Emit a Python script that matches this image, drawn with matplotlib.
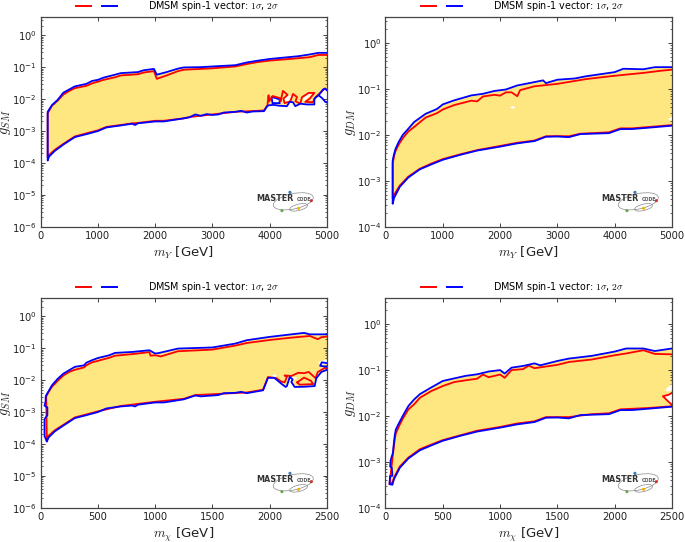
import matplotlib
matplotlib.use("Agg")
import matplotlib.pyplot as plt
from matplotlib.patches import Ellipse
from matplotlib.legend_handler import HandlerTuple
from matplotlib.lines import Line2D
from matplotlib.ticker import LogLocator, NullFormatter

plt.rcParams['mathtext.fontset'] = 'cm'
plt.rcParams['font.family'] = 'DejaVu Sans'

LEGEND_TEXT = r'DMSM spin-1 vector: $1\sigma$, $2\sigma$'

# ---- Panel 1: gSM vs mY
p1_up2_x = [125,200,300,400,500,600,800,900,1000,1100,1300,1400,1700,1800,1980,2030,2200,2400,2500,2800,3000,3400,3600,3800,4000,4500,4700,4850,5000]
p1_up2_y = [.004,.0065,.0095,.016,.02,.025,.03,.037,.04,.047,.058,.065,.07,.08,.088,.058,.07,.09,.098,.1,.105,.115,.14,.16,.18,.22,.25,.28,.28]
p1_up1_y = [.0036,.0062,.009,.014,.018,.022,.026,.031,.035,.04,.048,.055,.06,.068,.075,.043,.055,.075,.083,.088,.092,.105,.125,.145,.16,.19,.205,.24,.24]
p1_lo2_x = [125,150,250,400,600,800,1000,1150,1400,1600,1650,1700,2000,2150,2500,2600,2700,2800,2900,3000,3100,3200,3400,3500,3600,3700,3900,3950,3980,4068,4173,4300,4348,4406,4447,4534,4650,4779,4779,4854,4930,4970,5000]
p1_lo2_y = [1.2e-4,1.6e-4,2.4e-4,3.8e-4,6.5e-4,8e-4,1e-3,1.3e-3,1.5e-3,1.7e-3,1.55e-3,1.75e-3,2e-3,2e-3,2.5e-3,2.7e-3,3.3e-3,3e-3,3.4e-3,3.2e-3,3.3e-3,3.8e-3,4e-3,4.3e-3,3.8e-3,4.1e-3,4.2e-3,5.8e-3,6.4e-3,6.6e-3,6.2e-3,6e-3,8.2e-3,8e-3,6e-3,7.2e-3,6.8e-3,6.8e-3,.0104,.0132,.02,.0214,.019]
p1_lo1_x = [125,150,250,400,600,800,1000,1150,1400,1600,1700,2000,2150,2500,2600,3400,3900,3960,3980,3990,4050,4173,4190,4231,4312,4240,4260,4359,4406,4476,4450,4534,4563,4680,4779,4700,4620,4750,4810,4880,4960,5000]
p1_lo1_y = [1.5e-4,1.8e-4,2.6e-4,4e-4,6.8e-4,8.5e-4,1.05e-3,1.35e-3,1.55e-3,1.75e-3,1.8e-3,2.1e-3,2.1e-3,2.5e-3,2.75e-3,4e-3,4.4e-3,6.4e-3,.0132,.0085,.0125,.0108,.0085,.0181,.0135,.0104,.0075,.0085,.0145,.0117,.0085,.0072,.0115,.0156,.0156,.0104,.0082,.008,.012,.0155,.0214,.019]
p1_tail_x = [4854,4920,4970,5000]
p1_tail_y = [.0132,.0105,.0082,.0078]
p1_hole_x = [[4030,4173,4173,4050],[4265,4300,4250,4280,4340,4380],[4575,4680,4740,4650,4600]]
p1_hole_y = [[.0118,.0098,.0075,.0075],[.0155,.0135,.0104,.0082,.0088,.012],[.0105,.0145,.0145,.0104,.0085]]
p1_hole_edge = ['#0000ff','none','none']

# ---- Panel 2: gDM vs mY
p2_up2_x = [125,150,175,230,300,400,500,700,900,1000,1200,1500,1700,1900,2100,2300,2600,2750,2800,3000,3300,3500,4000,4150,4500,4700,5000]
p2_up2_y = [.0028,.0039,.005,.0071,.01,.0138,.0192,.029,.037,.0465,.057,.073,.079,.091,.098,.12,.142,.155,.135,.16,.17,.19,.234,.277,.27,.30,.30]
p2_up1_x = [125,150,175,230,300,400,500,700,900,1000,1200,1500,1600,1700,1900,2000,2100,2200,2300,2350,2600,3000,3500,4000,4500,4800,5000]
p2_up1_y = [.0024,.0035,.0045,.0062,.0085,.012,.015,.024,.03,.036,.045,.056,.054,.069,.075,.072,.085,.085,.07,.095,.115,.13,.165,.195,.225,.25,.265]
p2_lo2_x = [125,150,250,400,600,800,1000,1300,1600,2000,2300,2600,2800,3000,3200,3400,3600,3900,4100,4300,4600,5000]
p2_lo2_y = [3.2e-4,4.3e-4,7.5e-4,1.2e-3,1.8e-3,2.3e-3,2.9e-3,3.7e-3,4.6e-3,5.6e-3,6.6e-3,7.4e-3,9.2e-3,9.3e-3,9e-3,1.05e-2,1.07e-2,1.1e-2,1.35e-2,1.35e-2,1.45e-2,1.6e-2]
p2_lo1_y = [4.2e-4,5e-4,8e-4,1.25e-3,1.85e-3,2.4e-3,3e-3,3.8e-3,4.7e-3,5.8e-3,6.8e-3,7.6e-3,9.4e-3,9.5e-3,9.4e-3,1.07e-2,1.1e-2,1.15e-2,1.4e-2,1.4e-2,1.5e-2,1.65e-2]
p2_hole_x = [[2170,2220,2270,2220],[4930,5000,5000]]
p2_hole_y = [[.04,.043,.04,.037],[.022,.025,.02]]
p2_hole_edge = ['none','none']

# ---- Panel 3: gSM vs mchi
p3_up2_x = [50,75,100,150,200,250,300,380,400,450,500,600,650,800,950,1000,1030,1200,1500,1700,1800,2000,2200,2300,2350,2500]
p3_up2_y = [.0034,.0048,.0069,.011,.016,.0204,.026,.029,.035,.042,.049,.06,.071,.076,.086,.068,.07,.097,.105,.139,.177,.225,.273,.30,.27,.27]
p3_up1_x = [50,75,100,150,200,250,300,380,400,450,500,600,650,800,950,960,1000,1050,1200,1500,1700,1800,2000,2200,2350,2420,2450,2500]
p3_up1_y = [.0031,.0045,.0062,.0095,.014,.018,.021,.025,.029,.036,.04,.05,.058,.065,.075,.058,.06,.055,.08,.09,.12,.145,.18,.215,.24,.19,.22,.23]
p3_left_x = [45,45,35,60,60,35,35,35,55]
p3_left_y = [.003,.0022,.0016,.0014,8e-4,6e-4,3.5e-4,1.8e-4,1.2e-4]
p3_lo2_x = [55,70,125,200,300,400,500,575,700,800,825,850,1000,1075,1250,1350,1400,1500,1550,1600,1700,1750,1800,1942,1985,2040,2100,2139,2150,2175,2200,2189,2218,2300,2392,2407,2451,2500]
p3_lo2_y = [1.2e-4,1.6e-4,2.5e-4,3.8e-4,6.5e-4,8e-4,1e-3,1.3e-3,1.5e-3,1.6e-3,1.5e-3,1.7e-3,2e-3,2e-3,2.5e-3,3.3e-3,3.1e-3,3.3e-3,3.4e-3,3.9e-3,4e-3,4.3e-3,3.9e-3,4.8e-3,.0118,.0118,.0078,.0061,.0065,.0126,.0105,.0087,.0061,.0062,.0065,.0115,.018,.021]
p3_lo1_x = [70,125,200,300,500,700,1000,1250,1350,1800,1942,1985,2060,2100,2130,2150,2130,2190,2250,2300,2340,2400,2420,2480,2500]
p3_lo1_y = [1.8e-4,2.7e-4,4e-4,6.8e-4,1.05e-3,1.55e-3,2.1e-3,2.6e-3,3.4e-3,4.1e-3,5e-3,.0125,.0115,.009,.0085,.0125,.014,.0135,.017,.0165,.018,.0115,.018,.024,.023]
p3_red2_x = [2240,2300,2360,2380,2260,2240]
p3_red2_y = [.0085,.012,.0095,.0075,.0072,.0085]
p3_tail_x = [2500,2440,2455,2500]
p3_tail_y = [.026,.028,.036,.034]
p3_hole_x = [[2020,2050,2060,2030],[2180,2240,2230,2190],[2420,2500,2500,2450]]
p3_hole_y = [[.0135,.016,.0135,.012],[.0125,.012,.0105,.0105],[.036,.045,.032,.031]]
p3_hole_edge = ['none','none','none']

# ---- Panel 4: gDM vs mchi
p4_up2_x = [70,80,90,120,150,200,250,300,400,500,600,700,800,900,1000,1040,1100,1200,1300,1350,1500,1600,1800,2000,2100,2250,2350,2500]
p4_up2_y = [.0022,.0037,.0051,.0072,.01,.0166,.023,.03,.042,.058,.066,.075,.081,.093,.10,.084,.113,.123,.14,.127,.158,.178,.204,.253,.295,.295,.26,.295]
p4_up1_x = [70,80,90,120,150,200,250,300,400,500,600,700,800,850,900,1000,1040,1100,1200,1250,1300,1500,1600,1800,2000,2100,2250,2350,2500]
p4_up1_y = [.0019,.003,.0042,.0062,.0087,.014,.018,.025,.035,.045,.055,.06,.065,.08,.07,.08,.068,.1,.105,.125,.11,.13,.15,.17,.21,.23,.27,.225,.22]
p4_left_x = [65,45,40,55,60,40,35]
p4_left_y = [.0016,.0011,8e-4,7.5e-4,5e-4,5e-4,3.3e-4]
p4_lo2_x = [60,75,125,200,300,400,500,650,800,1000,1150,1300,1400,1500,1600,1700,1800,1950,2050,2150,2300,2500]
p4_lo2_y = [3.2e-4,4.3e-4,7.5e-4,1.2e-3,1.8e-3,2.3e-3,2.9e-3,3.7e-3,4.6e-3,5.6e-3,6.6e-3,7.4e-3,9.2e-3,9.3e-3,8.9e-3,1.05e-2,1.07e-2,1.1e-2,1.35e-2,1.35e-2,1.45e-2,1.6e-2]
p4_lo1_x = [60,75,125,200,300,400,500,650,800,1000,1150,1300,1400,1600,1800,1950,2050,2300,2480,2500]
p4_lo1_y = [3.6e-4,4.6e-4,8e-4,1.25e-3,1.9e-3,2.4e-3,3e-3,3.8e-3,4.8e-3,5.8e-3,6.9e-3,7.7e-3,9.5e-3,9.5e-3,1.1e-2,1.15e-2,1.4e-2,1.5e-2,1.62e-2,1.65e-2]
p4_red2_x = [2500,2470,2420,2470,2500]
p4_red2_y = [.032,.029,.027,.0205,.0175]
p4_hole_x = [[2500,2470,2420,2470,2500],[2440,2500,2500,2460]]
p4_hole_y = [[.032,.029,.027,.0205,.0175],[.037,.05,.036,.034]]
p4_hole_edge = ['none','none']

x_ticks_y = [0,1000,2000,3000,4000,5000]
x_ticks_chi = [0,500,1000,1500,2000,2500]

RED, BLUE, YEL = '#ff0000', '#0000ff', '#fee681'
W, H = 685., 542.
fig = plt.figure(figsize=(6.85, 5.42), dpi=100, facecolor='white')


def logo(ax):
    ins = ax.inset_axes([(760-122)/858, (680-640)/630, 185/858, 75/630])
    ins.set_xlim(760, 945); ins.set_ylim(640, 565); ins.axis('off')
    ins.patch.set_alpha(0)
    ins.add_patch(Ellipse((879, 603), 122, 46, angle=-12, fill=False, ec='#888888', lw=.5))
    ins.add_patch(Ellipse((895, 621), 55, 19, angle=-14, fill=False, ec='#888888', lw=.5))
    ins.scatter([869, 933, 845, 895], [576, 601, 631, 624], s=5, linewidths=0,
                c=['#3b78b5', '#d03030', '#6aa84f', '#f0b400'], zorder=3)
    ins.text(767, 602, 'MASTER', fontsize=5.8, fontweight='bold', color='#333333', va='baseline', ha='left')
    ins.text(888, 602, 'CODE', fontsize=3.4, fontweight='bold', color='#555555', va='baseline', ha='left')


def panel(box, xmax, ymin, xticks, xlabel, ylabel, upx2, upy2, upx1, upy1, lox2, loy2, lox1, loy1,
          holes, hole_edge, left=None, extra_red=None, tail=None):
    l, t, r, b = box
    ax = fig.add_axes([l/W, 1-b/H, (r-l)/W, (b-t)/H])
    lx = list(left[0]) if left else []
    ly = list(left[1]) if left else []
    px2 = upx2[::-1] + lx + lox2
    py2 = upy2[::-1] + ly + loy2
    px1 = upx1[::-1] + lx[-1:] + lox1
    py1 = upy1[::-1] + ly[-1:] + loy1
    ax.fill(px2, py2, color=YEL, lw=0, zorder=1)
    for hx, hy, he in zip(holes[0], holes[1], hole_edge):
        ax.fill(hx, hy, facecolor='white', edgecolor=he, lw=1.3, zorder=2)
    ax.plot(px1, py1, color=RED, lw=1.3, zorder=3)
    if extra_red:
        ax.plot(extra_red[0], extra_red[1], color=RED, lw=1.3, zorder=3)
    ax.plot(px2, py2, color=BLUE, lw=1.3, zorder=4)
    if tail:
        ax.plot(tail[0], tail[1], color=BLUE, lw=1.3, zorder=4)
    ax.set_yscale('log')
    ax.set_xlim(0, xmax)
    ax.set_ylim(ymin, 3.7)
    ax.set_xticks(xticks)
    ax.yaxis.set_major_locator(LogLocator(base=10, numticks=12))
    ax.yaxis.set_minor_locator(LogLocator(base=10, subs=range(2, 10), numticks=12))
    ax.yaxis.set_minor_formatter(NullFormatter())
    ax.tick_params(which='both', direction='in', top=True, right=True, colors='#222222', labelsize=7.2, pad=3)
    ax.tick_params(which='major', length=3.2, width=.6)
    ax.tick_params(which='minor', length=1.6, width=.5)
    for s in ax.spines.values():
        s.set_linewidth(.9); s.set_color('#444444')
    ax.set_xlabel(xlabel, fontsize=9.5, labelpad=2.5, color='#222222')
    ax.set_ylabel(ylabel, fontsize=10.5, color='#222222')
    ax.yaxis.set_label_coords(-(l-13)/(r-l) if l < 100 else -(l-358)/(r-l), .5)
    hs = (Line2D([], [], color=RED, lw=1.4), Line2D([], [], color=BLUE, lw=1.4))
    ax.legend([hs], [LEGEND_TEXT], handler_map={tuple: HandlerTuple(ndivide=2, pad=1.15)},
              loc='lower left', bbox_to_anchor=(.1235, 1.018), borderpad=0, borderaxespad=0,
              frameon=False, fontsize=6.9, handlelength=4.25, handletextpad=3.3)
    logo(ax)
    return ax


panel((40.5, 17, 327, 227), 5000, 1e-6, x_ticks_y, r'$m_Y$ [GeV]', r'$g_{SM}$',
      p1_up2_x, p1_up2_y, p1_up2_x, p1_up1_y, p1_lo2_x, p1_lo2_y, p1_lo1_x, p1_lo1_y,
      (p1_hole_x, p1_hole_y), p1_hole_edge, tail=(p1_tail_x, p1_tail_y))
panel((385.5, 17, 672, 227), 5000, 1e-4, x_ticks_y, r'$m_Y$ [GeV]', r'$g_{DM}$',
      p2_up2_x, p2_up2_y, p2_up1_x, p2_up1_y, p2_lo2_x, p2_lo2_y, p2_lo2_x, p2_lo1_y,
      (p2_hole_x, p2_hole_y), p2_hole_edge)
panel((40.5, 298, 327, 508), 2500, 1e-6, x_ticks_chi, r'$m_\chi$ [GeV]', r'$g_{SM}$',
      p3_up2_x, p3_up2_y, p3_up1_x, p3_up1_y, p3_lo2_x, p3_lo2_y, p3_lo1_x, p3_lo1_y,
      (p3_hole_x, p3_hole_y), p3_hole_edge, left=(p3_left_x, p3_left_y),
      extra_red=(p3_red2_x, p3_red2_y), tail=(p3_tail_x, p3_tail_y))
panel((385.5, 298, 672, 508), 2500, 1e-4, x_ticks_chi, r'$m_\chi$ [GeV]', r'$g_{DM}$',
      p4_up2_x, p4_up2_y, p4_up1_x, p4_up1_y, p4_lo2_x, p4_lo2_y, p4_lo1_x, p4_lo1_y,
      (p4_hole_x, p4_hole_y), p4_hole_edge, left=(p4_left_x, p4_left_y),
      extra_red=(p4_red2_x, p4_red2_y))

fig.savefig('out.png', dpi=100)
